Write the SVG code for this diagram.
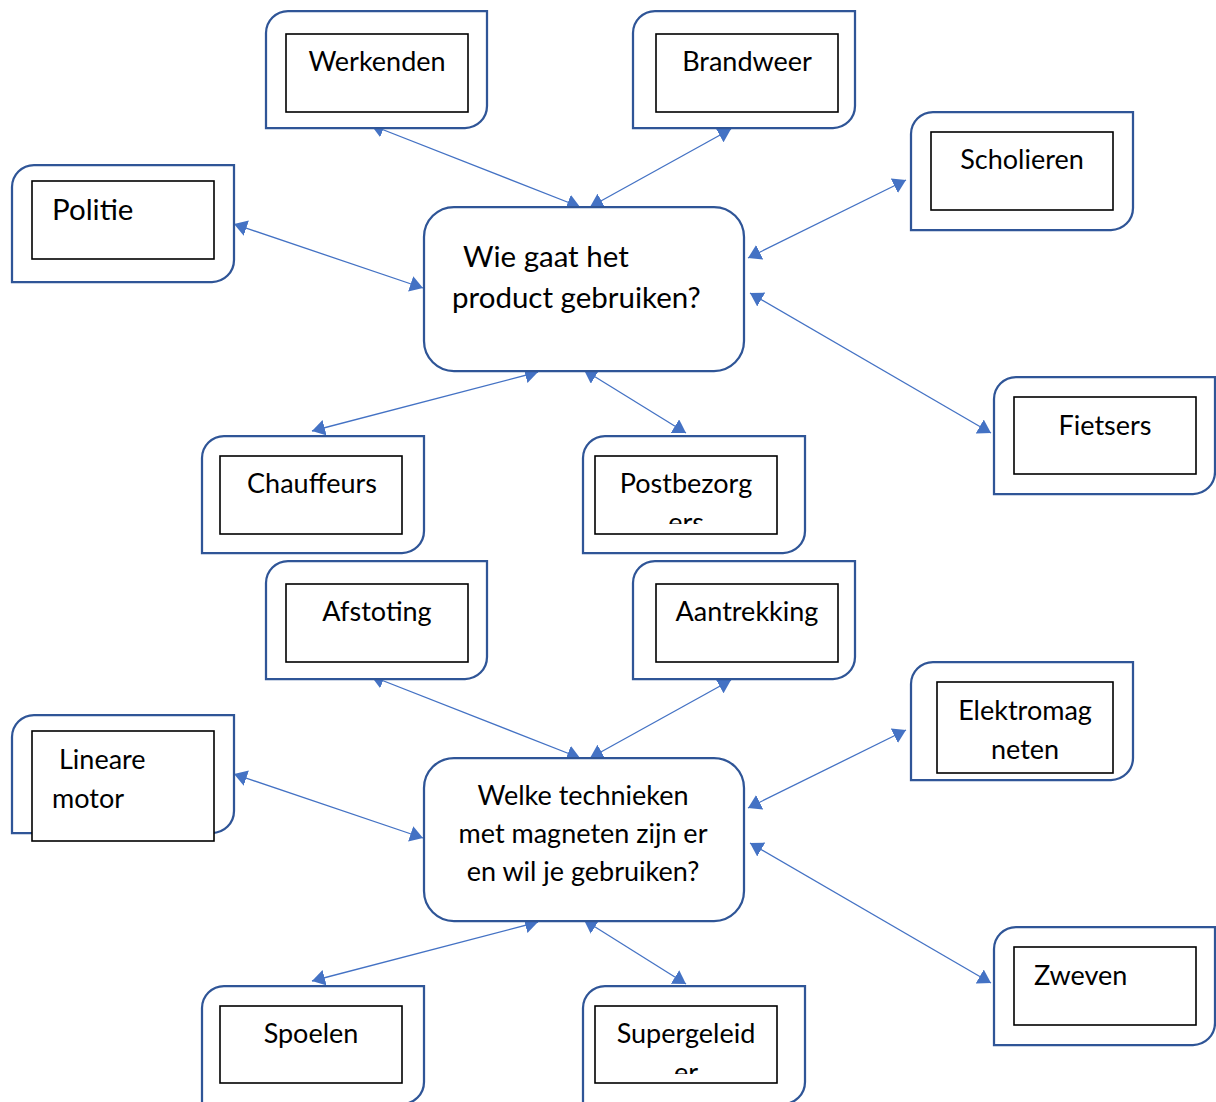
<svg xmlns="http://www.w3.org/2000/svg" width="1216" height="1102" viewBox="0 0 1216 1102">
<style>
.frame{fill:#fff;stroke:#2F5597;stroke-width:2.25}
.inner{fill:#fff;stroke:#000;stroke-width:1.6}
.hub{fill:#fff;stroke:#2F5597;stroke-width:2.25}
.t{font-family:Lato,"Open Sans",sans-serif;font-size:27px;fill:#000}
.tc{text-anchor:middle}
.big{font-size:29.5px}
.conn line{stroke:#4472C4;stroke-width:1.3;marker-start:url(#ah);marker-end:url(#ah)}
</style>
<defs>
<marker id="ah" viewBox="0 0 13 16" refX="13" refY="8" markerWidth="13" markerHeight="16" markerUnits="userSpaceOnUse" orient="auto-start-reverse">
<path d="M0,0 L13,8 L0,16 Z" fill="#4472C4"/>
</marker>
<clipPath id="clipPost"><rect x="595" y="456" width="182" height="68"/></clipPath>
<clipPath id="clipSuper"><rect x="595" y="1006" width="182" height="68"/></clipPath>
</defs>
<rect width="1216" height="1102" fill="#fff"/>

<g id="connectors" class="conn">
<line x1="371" y1="125" x2="580" y2="207"/>
<line x1="731" y1="129" x2="590" y2="207"/>
<line x1="234" y1="224" x2="423" y2="288"/>
<line x1="906" y1="180" x2="748" y2="258"/>
<line x1="991" y1="433" x2="750" y2="293"/>
<line x1="538" y1="372" x2="312" y2="431"/>
<line x1="584" y1="370" x2="686" y2="433"/>
<line x1="371" y1="676" x2="580" y2="758"/>
<line x1="731" y1="680" x2="590" y2="758"/>
<line x1="234" y1="774" x2="423" y2="838"/>
<line x1="906" y1="730" x2="748" y2="808"/>
<line x1="991" y1="983" x2="750" y2="843"/>
<line x1="538" y1="922" x2="312" y2="981"/>
<line x1="584" y1="920" x2="686" y2="984"/>
</g>

<g id="hub1">
<rect class="hub" x="424" y="207" width="320" height="164" rx="30"/>
<text class="t big" x="463" y="267">Wie gaat het</text>
<text class="t big" x="452" y="308">product gebruiken?</text>
</g>
<g id="hub2">
<rect class="hub" x="424" y="758" width="320" height="163" rx="30"/>
<text class="t tc" x="583" y="805">Welke technieken</text>
<text class="t tc" x="583" y="843">met magneten zijn er</text>
<text class="t tc" x="583" y="881">en wil je gebruiken?</text>
</g>

<g id="werkenden">
<path class="frame" d="M288,11 H487 V106 A22,22 0 0 1 465,128 H266 V33 A22,22 0 0 1 288,11 Z"/>
<rect class="inner" x="286" y="34" width="182" height="78"/>
<text class="t tc" x="377" y="71">Werkenden</text>
</g>
<g id="brandweer">
<path class="frame" d="M655,11 H855 V106 A22,22 0 0 1 833,128 H633 V33 A22,22 0 0 1 655,11 Z"/>
<rect class="inner" x="656" y="34" width="182" height="78"/>
<text class="t tc" x="747" y="71">Brandweer</text>
</g>
<g id="politie">
<path class="frame" d="M34,165 H234 V260 A22,22 0 0 1 212,282 H12 V187 A22,22 0 0 1 34,165 Z"/>
<rect class="inner" x="32" y="181" width="182" height="78"/>
<text class="t big" x="52" y="220">Politie</text>
</g>
<g id="scholieren">
<path class="frame" d="M933,112 H1133 V208 A22,22 0 0 1 1111,230 H911 V134 A22,22 0 0 1 933,112 Z"/>
<rect class="inner" x="931" y="132" width="182" height="78"/>
<text class="t tc" x="1022" y="169">Scholieren</text>
</g>
<g id="fietsers">
<path class="frame" d="M1016,377 H1215 V472 A22,22 0 0 1 1193,494 H994 V399 A22,22 0 0 1 1016,377 Z"/>
<rect class="inner" x="1014" y="397" width="182" height="77"/>
<text class="t tc" x="1105" y="435">Fietsers</text>
</g>
<g id="chauffeurs">
<path class="frame" d="M224,436 H424 V531 A22,22 0 0 1 402,553 H202 V458 A22,22 0 0 1 224,436 Z"/>
<rect class="inner" x="220" y="456" width="182" height="78"/>
<text class="t tc" x="312" y="493">Chauffeurs</text>
</g>
<g id="postbezorgers">
<path class="frame" d="M605,436 H805 V531 A22,22 0 0 1 783,553 H583 V458 A22,22 0 0 1 605,436 Z"/>
<rect class="inner" x="595" y="456" width="182" height="78"/>
<g clip-path="url(#clipPost)">
<text class="t tc" x="686" y="493">Postbezorg</text>
<text class="t tc" x="686" y="532">ers</text>
</g>
</g>
<g id="afstoting">
<path class="frame" d="M288,561 H487 V657 A22,22 0 0 1 465,679 H266 V583 A22,22 0 0 1 288,561 Z"/>
<rect class="inner" x="286" y="584" width="182" height="78"/>
<text class="t tc" x="377" y="621">Afstoting</text>
</g>
<g id="aantrekking">
<path class="frame" d="M655,561 H855 V657 A22,22 0 0 1 833,679 H633 V583 A22,22 0 0 1 655,561 Z"/>
<rect class="inner" x="656" y="584" width="182" height="78"/>
<text class="t tc" x="747" y="621">Aantrekking</text>
</g>
<g id="lineare-motor">
<path class="frame" d="M34,715 H234 V811 A22,22 0 0 1 212,833 H12 V737 A22,22 0 0 1 34,715 Z"/>
<rect class="inner" x="32" y="731" width="182" height="110"/>
<text class="t" x="59" y="769">Lineare</text>
<text class="t" x="52" y="808">motor</text>
</g>
<g id="elektromagneten">
<path class="frame" d="M933,662 H1133 V758 A22,22 0 0 1 1111,780 H911 V684 A22,22 0 0 1 933,662 Z"/>
<rect class="inner" x="937" y="682" width="176" height="91"/>
<text class="t tc" x="1025" y="720">Elektromag</text>
<text class="t tc" x="1025" y="759">neten</text>
</g>
<g id="zweven">
<path class="frame" d="M1016,927 H1215 V1023 A22,22 0 0 1 1193,1045 H994 V949 A22,22 0 0 1 1016,927 Z"/>
<rect class="inner" x="1014" y="947" width="182" height="78"/>
<text class="t" x="1034" y="985">Zweven</text>
</g>
<g id="spoelen">
<path class="frame" d="M224,986 H424 V1082 A22,22 0 0 1 402,1104 H202 V1008 A22,22 0 0 1 224,986 Z"/>
<rect class="inner" x="220" y="1006" width="182" height="77"/>
<text class="t tc" x="311" y="1043">Spoelen</text>
</g>
<g id="supergeleider">
<path class="frame" d="M605,986 H805 V1082 A22,22 0 0 1 783,1104 H583 V1008 A22,22 0 0 1 605,986 Z"/>
<rect class="inner" x="595" y="1006" width="182" height="77"/>
<g clip-path="url(#clipSuper)">
<text class="t tc" x="686" y="1043">Supergeleid</text>
<text class="t tc" x="686" y="1082">er</text>
</g>
</g>
</svg>
